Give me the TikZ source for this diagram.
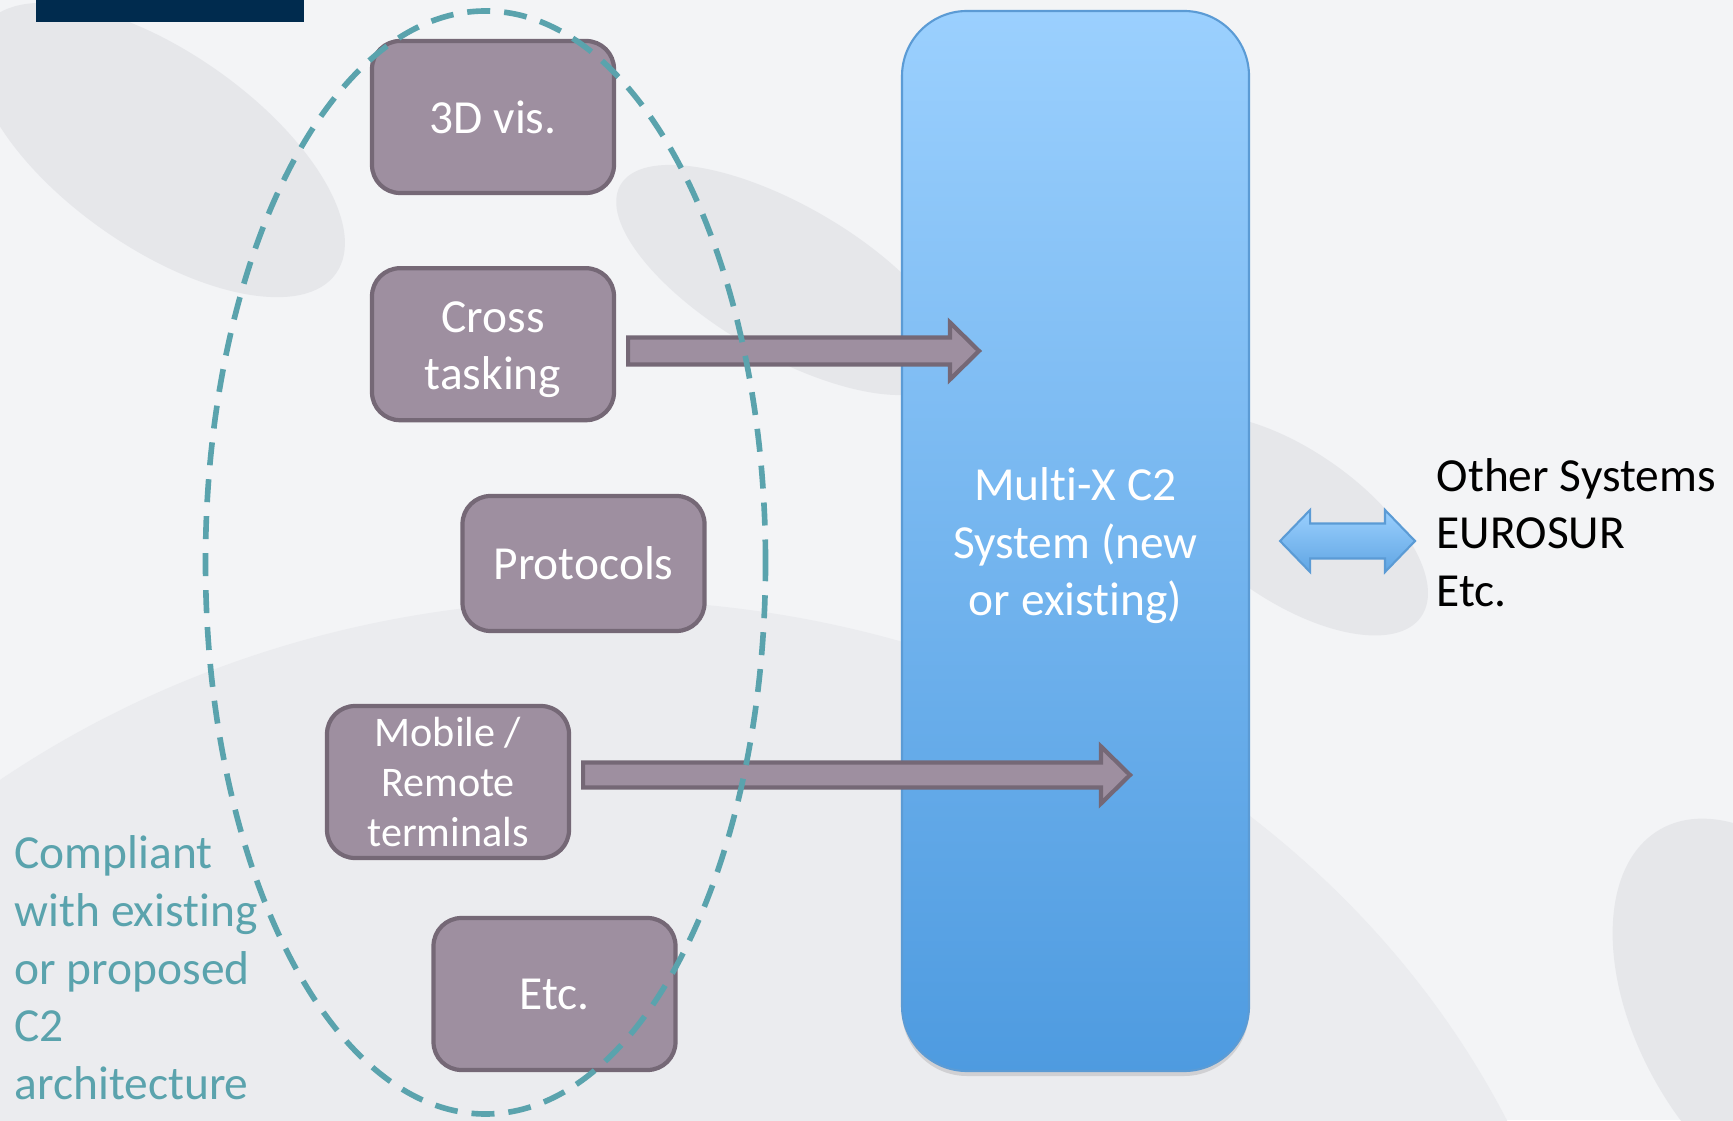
\documentclass[tikz,border=0pt]{standalone}
\usepackage{fontspec}
\setmainfont{Carlito}[RawFeature={-liga}]
\usepackage{xcolor}
\usepackage{tikz}
\usetikzlibrary{positioning,calc,shapes.geometric,shadows}
\definecolor{slide-bg}{HTML}{F3F4F6}
\definecolor{blob}{HTML}{E6E7EA}
\definecolor{swoosh}{HTML}{EBECEF}
\definecolor{navy-bar}{HTML}{002B4E}
\definecolor{boxfill}{HTML}{9E8FA0}
\definecolor{boxline}{HTML}{756876}
\definecolor{teal-dash}{HTML}{5AA3AD}
\definecolor{sys-top}{HTML}{9BD0FE}
\definecolor{sys-bottom}{HTML}{4E9BE0}
\definecolor{sys-line}{HTML}{5B9BD5}
\newcommand{\slidefont}{\fontsize{13.5}{16.4}\selectfont}
\newcommand{\smallslidefont}{\fontsize{12}{14.2}\selectfont}

\begin{document}
\begin{tikzpicture}[
  module/.style={draw=boxline, line width=1.2pt, fill=boxfill, rounded corners=0.28cm, minimum width=2.42cm, minimum height=1.52cm, inner sep=0pt, align=center, text=white, font=\slidefont},
  c2sys/.style={draw=sys-line, line width=0.6pt, top color=sys-top, bottom color=sys-bottom, rounded corners=0.65cm, minimum width=3.47cm, minimum height=10.6cm, inner sep=0pt, align=center, text=white, font=\slidefont, drop shadow={shadow xshift=0pt, shadow yshift=-0.05cm, opacity=0.25}},
  grouping/.style={ellipse, draw=teal-dash, line width=1.6pt, dash pattern=on 0.23cm off 0.14cm, minimum width=5.6cm, minimum height=11.03cm, inner sep=0pt},
  fatarr/.style={draw=boxline, line width=1.2pt, fill=boxfill},
  dblarr/.style={draw=sys-line, line width=0.6pt, top color=sys-top, bottom color=sys-bottom!90!white},
  note/.style={inner sep=0pt, align=left, font=\slidefont}
]
  \useasboundingbox (0,0) rectangle (17.33,11.20);
  \begin{scope}
    \clip (0,0) rectangle (17.33,11.20);
    \fill[slide-bg] (0,0) rectangle (17.33,11.20);
    \fill[swoosh] (6.0,-3.8) ellipse [x radius=10, y radius=9];
    \fill[blob, rotate around={-35:(1.6,9.7)}] (1.6,9.7) ellipse [x radius=2.15, y radius=0.98];
    \fill[blob, rotate around={-30:(7.85,8.4)}] (7.85,8.4) ellipse [x radius=1.9, y radius=0.75];
    \fill[blob, rotate around={-35:(12.9,5.95)}] (12.9,5.95) ellipse [x radius=1.6, y radius=0.75];
    \fill[blob, rotate around={-60:(17.7,1.0)}] (17.7,1.0) ellipse [x radius=2.2, y radius=1.3];
    \fill[navy-bar] (0.36,10.98) rectangle (3.04,11.20);
  \end{scope}

  \node[module] (vis) at (4.93,10.03) {3D vis.};
  \node[module, below=0.71cm of vis] (cross) {\rule{0pt}{11.8pt}Cross\\tasking};
  \node[module, minimum height=1.35cm] (proto) at (5.835,5.565) {Protocols};
  \node[module, font=\smallslidefont] (mobile) at (4.48,3.38) {Mobile /\\Remote\\terminals};
  \node[module] (etc) at (5.545,1.26) {Etc.};

  \node[c2sys] (sys) at (10.755,5.79) {\rule{0pt}{12pt}Multi-X C2\\System (new\\or existing)};
  \node[note, anchor=south west] (others) at (14.36,5.125) {Other Systems\\EUROSUR\\Etc.};
  \node[note, text=teal-dash, anchor=south west] (compliant) at (0.14,0.195) {Compliant\\with existing\\or proposed\\C2\\architecture};

  \coordinate (tipA) at (9.79,7.69);
  \coordinate (tipB) at (11.30,3.45);

  \draw[fatarr] let \p1=($(cross.east)+(0.12,0)$), \p2=(tipA) in
    (\x1,\y2+0.135cm) -- (\x2-0.29cm,\y2+0.135cm) -- (\x2-0.29cm,\y2+0.285cm) -- (tipA)
    -- (\x2-0.29cm,\y2-0.285cm) -- (\x2-0.29cm,\y2-0.135cm) -- (\x1,\y2-0.135cm) -- cycle;
  \draw[fatarr] let \p1=($(mobile.east)+(0.12,0)$), \p2=(tipB) in
    (\x1,\y2+0.125cm) -- (\x2-0.29cm,\y2+0.125cm) -- (\x2-0.29cm,\y2+0.285cm) -- (tipB)
    -- (\x2-0.29cm,\y2-0.285cm) -- (\x2-0.29cm,\y2-0.125cm) -- (\x1,\y2-0.125cm) -- cycle;
  \draw[dblarr] let \p1=($(sys.east)+(0.30,0)$), \p2=($(others.west)+(-0.21,0)$) in
    (\x1,\y1) -- (\x1+0.30cm,\y1+0.31cm) -- (\x1+0.30cm,\y1+0.175cm) -- (\x2-0.30cm,\y1+0.175cm)
    -- (\x2-0.30cm,\y1+0.31cm) -- (\x2,\y1) -- (\x2-0.30cm,\y1-0.31cm) -- (\x2-0.30cm,\y1-0.175cm)
    -- (\x1+0.30cm,\y1-0.175cm) -- (\x1+0.30cm,\y1-0.31cm) -- cycle;

  \node[grouping] (group) at (4.855,5.575) {};
\end{tikzpicture}
\end{document}
